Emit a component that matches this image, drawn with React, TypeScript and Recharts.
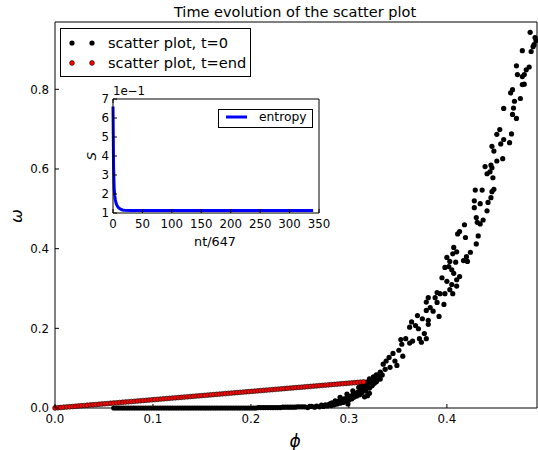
import React from 'react';
import { ScatterChart, Scatter, LineChart, Line, XAxis, YAxis } from 'recharts';

const FONT = '"DejaVu Sans", sans-serif';

// main axes
const phiTicks = [0, 0.1, 0.2, 0.3, 0.4];
const omegaTicks = [0, 0.2, 0.4, 0.6, 0.8];
const phiMax = 0.492;
const omegaMax = 0.969;

// scatter plot, t=end (red)
const redPhi = [
  0.000, 0.003, 0.006, 0.009, 0.012, 0.015, 0.018, 0.021, 0.024, 0.027,
  0.030, 0.033, 0.036, 0.039, 0.042, 0.045, 0.048, 0.051, 0.054, 0.057,
  0.060, 0.063, 0.066, 0.069, 0.072, 0.075, 0.078, 0.081, 0.084, 0.087,
  0.090, 0.093, 0.096, 0.099, 0.102, 0.105, 0.108, 0.111, 0.114, 0.117,
  0.120, 0.123, 0.126, 0.129, 0.132, 0.135, 0.138, 0.141, 0.144, 0.147,
  0.150, 0.153, 0.156, 0.159, 0.162, 0.165, 0.168, 0.171, 0.174, 0.177,
  0.180, 0.183, 0.186, 0.189, 0.192, 0.195, 0.198, 0.201, 0.204, 0.207,
  0.210, 0.213, 0.216, 0.219, 0.222, 0.225, 0.228, 0.231, 0.234, 0.237,
  0.240, 0.243, 0.246, 0.249, 0.252, 0.255, 0.258, 0.261, 0.264, 0.267,
  0.270, 0.273, 0.276, 0.279, 0.282, 0.285, 0.288, 0.291, 0.294, 0.297,
  0.300, 0.303, 0.306, 0.309, 0.312, 0.315,
];
const redOmega = [
  0.0000, 0.0006, 0.0012, 0.0019, 0.0025, 0.0031, 0.0037, 0.0044, 0.0050, 0.0056,
  0.0062, 0.0069, 0.0075, 0.0081, 0.0087, 0.0094, 0.0100, 0.0106, 0.0112, 0.0119,
  0.0125, 0.0131, 0.0137, 0.0144, 0.0150, 0.0156, 0.0162, 0.0168, 0.0175, 0.0181,
  0.0187, 0.0193, 0.0200, 0.0206, 0.0212, 0.0218, 0.0225, 0.0231, 0.0237, 0.0243,
  0.0250, 0.0256, 0.0262, 0.0268, 0.0275, 0.0281, 0.0287, 0.0293, 0.0300, 0.0306,
  0.0312, 0.0318, 0.0324, 0.0331, 0.0337, 0.0343, 0.0349, 0.0356, 0.0362, 0.0368,
  0.0374, 0.0381, 0.0387, 0.0393, 0.0399, 0.0406, 0.0412, 0.0418, 0.0424, 0.0431,
  0.0437, 0.0443, 0.0449, 0.0456, 0.0462, 0.0468, 0.0474, 0.0480, 0.0487, 0.0493,
  0.0499, 0.0505, 0.0512, 0.0518, 0.0524, 0.0530, 0.0537, 0.0543, 0.0549, 0.0555,
  0.0562, 0.0568, 0.0574, 0.0580, 0.0587, 0.0593, 0.0599, 0.0605, 0.0612, 0.0618,
  0.0624, 0.0630, 0.0636, 0.0643, 0.0649, 0.0655,
];

// scatter plot, t=0 (black): [phi, omega]
const blackPoints: [number, number][] = [
  [0.0600, 0], [0.0625, 0], [0.0650, 0], [0.0675, 0], [0.0700, 0], [0.0725, 0], [0.0750, 0], [0.0775, 0],
  [0.0800, 0], [0.0825, 0], [0.0850, 0], [0.0875, 0], [0.0900, 0], [0.0925, 0], [0.0950, 0], [0.0975, 0],
  [0.1000, 0], [0.1025, 0], [0.1050, 0], [0.1075, 0], [0.1100, 0], [0.1125, 0], [0.1150, 0], [0.1175, 0],
  [0.1200, 0], [0.1225, 0], [0.1250, 0], [0.1275, 0], [0.1300, 0], [0.1325, 0], [0.1350, 0], [0.1375, 0],
  [0.1400, 0], [0.1425, 0], [0.1450, 0], [0.1475, 0], [0.1500, 0], [0.1525, 0], [0.1550, 0], [0.1575, 0],
  [0.1600, 0], [0.1625, 0], [0.1650, 0], [0.1675, 0], [0.1700, 0], [0.1725, 0], [0.1750, 0], [0.1775, 0],
  [0.1800, 0], [0.1825, 0], [0.1850, 0], [0.1875, 0], [0.1900, 0], [0.1925, 0], [0.1950, 0], [0.1975, 0],
  [0.2000, 0], [0.2025, 0], [0.2050, 0], [0.2075, 0.001], [0.2100, 0.001], [0.2125, 0.001], [0.2150, 0.001],
  [0.2175, 0.001], [0.2200, 0.001], [0.2225, 0.001], [0.2250, 0.001], [0.2275, 0.001], [0.2300, 0.001],
  [0.2325, 0.002], [0.2350, 0.002], [0.2375, 0.002], [0.2400, 0.002], [0.2425, 0.002], [0.2450, 0.002],
  [0.2475, 0.003], [0.2500, 0.003], [0.2525, 0.003], [0.2550, 0.003], [0.2580, 0.001], [0.2600, 0.004],
  [0.262, 0.004], [0.265, 0.002], [0.267, 0.005], [0.270, 0.003], [0.272, 0.007], [0.274, 0.004],
  [0.276, 0.008], [0.278, 0.005], [0.280, 0.010], [0.282, 0.006], [0.283, 0.012], [0.285, 0.008],
  [0.286, 0.015], [0.288, 0.010], [0.289, 0.017], [0.291, 0.012], [0.292, 0.020], [0.294, 0.014],
  [0.295, 0.023], [0.297, 0.017], [0.298, 0.026], [0.299, 0.010], [0.300, 0.020], [0.301, 0.029],
  [0.303, 0.023], [0.304, 0.033], [0.305, 0.027], [0.307, 0.036], [0.308, 0.030], [0.309, 0.040],
  [0.311, 0.033], [0.312, 0.045], [0.313, 0.038], [0.314, 0.049], [0.316, 0.028], [0.316, 0.053],
  [0.317, 0.043], [0.318, 0.058], [0.319, 0.031], [0.320, 0.063], [0.321, 0.050], [0.322, 0.067],
  [0.323, 0.055], [0.324, 0.072], [0.326, 0.062], [0.327, 0.077], [0.328, 0.066], [0.329, 0.082],
  [0.331, 0.073], [0.332, 0.088],
  [0.351, 0.145], [0.345, 0.137], [0.341, 0.127], [0.347, 0.118], [0.355, 0.130], [0.338, 0.118],
  [0.335, 0.110], [0.342, 0.102], [0.349, 0.107], [0.337, 0.097], [0.332, 0.090], [0.328, 0.083],
  [0.334, 0.083], [0.325, 0.078], [0.321, 0.073], [0.318, 0.065], [0.328, 0.068], [0.332, 0.073],
  [0.324, 0.057], [0.321, 0.052], [0.317, 0.043], [0.321, 0.037], [0.313, 0.060], [0.310, 0.052],
  [0.304, 0.043], [0.298, 0.035], [0.291, 0.027], [0.286, 0.018], [0.282, 0.012],
  [0.395, 0.327], [0.390, 0.290], [0.393, 0.287], [0.388, 0.277], [0.381, 0.277], [0.379, 0.266],
  [0.383, 0.252], [0.390, 0.265], [0.397, 0.260], [0.379, 0.245], [0.386, 0.243], [0.392, 0.230],
  [0.381, 0.220], [0.375, 0.224], [0.370, 0.232], [0.364, 0.216], [0.368, 0.207], [0.362, 0.203],
  [0.371, 0.199], [0.381, 0.210], [0.377, 0.187], [0.372, 0.174], [0.365, 0.168], [0.379, 0.174],
  [0.358, 0.174], [0.362, 0.163], [0.374, 0.165], [0.354, 0.160], [0.353, 0.172],
  [0.407, 0.403], [0.410, 0.392], [0.406, 0.387], [0.424, 0.391], [0.420, 0.380], [0.400, 0.378],
  [0.403, 0.368], [0.409, 0.366], [0.402, 0.355], [0.417, 0.370], [0.421, 0.368], [0.398, 0.353],
  [0.405, 0.347], [0.407, 0.338], [0.413, 0.330], [0.410, 0.322], [0.400, 0.318], [0.405, 0.310],
  [0.410, 0.306], [0.403, 0.297], [0.398, 0.287], [0.406, 0.287],
  [0.418, 0.460], [0.413, 0.443], [0.411, 0.437], [0.419, 0.428],
  [0.429, 0.547], [0.436, 0.547], [0.448, 0.549], [0.446, 0.543], [0.445, 0.528], [0.428, 0.520],
  [0.434, 0.513], [0.442, 0.516], [0.428, 0.503], [0.441, 0.495], [0.430, 0.478], [0.431, 0.466],
  [0.437, 0.472], [0.434, 0.462], [0.432, 0.432], [0.430, 0.412],
  [0.439, 0.606], [0.445, 0.610], [0.446, 0.603], [0.441, 0.588], [0.447, 0.578], [0.444, 0.593],
  [0.454, 0.699], [0.451, 0.687], [0.466, 0.688], [0.458, 0.674], [0.455, 0.663], [0.446, 0.657],
  [0.448, 0.645], [0.457, 0.626], [0.451, 0.620], [0.464, 0.666],
  [0.467, 0.799], [0.465, 0.791], [0.475, 0.777], [0.469, 0.770], [0.468, 0.753], [0.467, 0.737],
  [0.471, 0.727], [0.458, 0.752],
  [0.484, 0.856], [0.481, 0.849], [0.479, 0.837], [0.471, 0.859], [0.472, 0.837], [0.477, 0.832],
  [0.479, 0.813], [0.477, 0.812],
  [0.485, 0.943], [0.489, 0.912], [0.488, 0.907], [0.486, 0.895], [0.477, 0.897], [0.491, 0.922],
  [0.490, 0.930],
];

// inset: entropy vs nt/647
const ntTicks = [0, 50, 100, 150, 200, 250, 300, 350];
const sTicks = [1, 2, 3, 4, 5, 6, 7];
const entropyT = [0, 1, 2, 3, 4, 5, 6, 8, 10, 13, 16, 20, 30, 40, 60, 100, 150, 200, 250, 300, 340];
const entropyS = [6.6, 3.4, 2.3, 1.9, 1.7, 1.55, 1.45, 1.33, 1.26, 1.2, 1.16, 1.14, 1.13, 1.13, 1.13, 1.13, 1.13, 1.13, 1.13, 1.13, 1.13];

const t0Data = blackPoints.map(([phi, omega]) => ({ phi, omega }));
const endData = redPhi.map((phi, i) => ({ phi, omega: redOmega[i] }));
const entropyData = entropyT.map((t, i) => ({ t, s: entropyS[i] }));

const TICK_FS = 11.8;
const txt = { fontFamily: FONT, fill: '#000' };

const bottomTick = (fmt: (v: number) => string) => (p: any) => (
  <g>
    <line x1={p.x} x2={p.x} y1={p.y} y2={p.y - 4} stroke="#000" />
    <text x={p.x} y={p.y + 15} textAnchor="middle" fontSize={TICK_FS} style={txt}>{fmt(p.payload.value)}</text>
  </g>
);
const leftTick = (fmt: (v: number) => string, gap: number) => (p: any) => (
  <g>
    <line x1={p.x} x2={p.x + 4} y1={p.y} y2={p.y} stroke="#000" />
    <text x={p.x - gap} y={p.y} dy="0.36em" textAnchor="end" fontSize={TICK_FS} style={txt}>{fmt(p.payload.value)}</text>
  </g>
);
const topTick = (p: any) => <line x1={p.x} x2={p.x} y1={p.y} y2={p.y + 4} stroke="#000" />;
const rightTick = (p: any) => <line x1={p.x} x2={p.x - 4} y1={p.y} y2={p.y} stroke="#000" />;

const blackDot = (p: any) => <circle cx={p.cx} cy={p.cy} r={2.6} fill="#000" />;
const redDot = (p: any) => <circle cx={p.cx} cy={p.cy} r={2.4} fill="#ff0000" stroke="#000" strokeWidth={0.6} />;

const axisCommon = { tickSize: 0, tickMargin: 0, tickLine: false, interval: 0 as const, axisLine: { stroke: '#000' } };

function Label({ x, y, size, rotate, italic, children }: any) {
  return (
    <div style={{
      position: 'absolute', left: x, top: y, transform: `translate(-50%, -50%)${rotate ? ` rotate(${rotate}deg)` : ''}`,
      fontFamily: FONT, fontSize: size, fontStyle: italic ? 'italic' : 'normal', whiteSpace: 'nowrap', lineHeight: 1, color: '#000',
    }}>{children}</div>
  );
}

function MainLegend() {
  return (
    <svg width={192} height={50} style={{ position: 'absolute', left: 60, top: 28 }}>
      <rect x={0.5} y={0.5} width={190} height={48} fill="#fff" stroke="#000" />
      <circle cx={12} cy={15} r={2.6} fill="#000" />
      <circle cx={32} cy={15} r={2.6} fill="#000" />
      <text x={48} y={15} dy="0.36em" fontSize={14.6} style={txt}>scatter plot, t=0</text>
      <circle cx={12} cy={35} r={2.4} fill="#ff0000" stroke="#000" strokeWidth={0.6} />
      <circle cx={32} cy={35} r={2.4} fill="#ff0000" stroke="#000" strokeWidth={0.6} />
      <text x={48} y={35} dy="0.36em" fontSize={14.6} style={txt}>scatter plot, t=end</text>
    </svg>
  );
}

function InsetLegend() {
  return (
    <svg width={96} height={20} style={{ position: 'absolute', left: 218, top: 109 }}>
      <rect x={0.5} y={0.5} width={94} height={18} fill="#fff" stroke="#000" />
      <line x1={8} x2={29} y1={8} y2={8} stroke="#0000ff" strokeWidth={3} />
      <text x={41} y={8} dy="0.36em" fontSize={12.3} style={txt}>entropy</text>
    </svg>
  );
}

export default function App() {
  return (
    <div style={{ position: 'absolute', left: 0, top: 0, width: 538, height: 450, background: '#fff' }}>
      <ScatterChart width={538} height={450} margin={{ top: 21, right: 0, bottom: 0, left: 0 }}>
        <XAxis dataKey="phi" type="number" domain={[0, phiMax]} ticks={phiTicks} height={42}
          {...axisCommon} tick={bottomTick((v) => v.toFixed(1))} />
        <XAxis xAxisId="top" orientation="top" type="number" domain={[0, phiMax]} ticks={phiTicks} height={1}
          {...axisCommon} tick={topTick} />
        <YAxis dataKey="omega" type="number" domain={[0, omegaMax]} ticks={omegaTicks} width={55}
          {...axisCommon} tick={leftTick((v) => v.toFixed(1), 6)} />
        <YAxis yAxisId="right" orientation="right" type="number" domain={[0, omegaMax]} ticks={omegaTicks} width={1}
          {...axisCommon} tick={rightTick} />
        <Scatter data={t0Data} shape={blackDot} isAnimationActive={false} />
        <Scatter data={endData} shape={redDot} isAnimationActive={false} />
      </ScatterChart>

      <Label x={295} y={12} size={14.5}>Time evolution of the scatter plot</Label>
      <Label x={295} y={441} size={17} italic>ϕ</Label>
      <Label x={17} y={216} size={16.5} italic rotate={-90}>ω</Label>
      <MainLegend />

      <div style={{ position: 'absolute', left: 60, top: 85 }}>
        <LineChart width={270} height={175} data={entropyData} margin={{ top: 13, right: 10, bottom: 0, left: 0 }}>
          <XAxis dataKey="t" type="number" domain={[0, 350]} ticks={ntTicks} height={47}
            {...axisCommon} tick={bottomTick((v) => String(v))} />
          <XAxis xAxisId="top" orientation="top" type="number" domain={[0, 350]} ticks={ntTicks} height={1}
            {...axisCommon} tick={topTick} />
          <YAxis type="number" domain={[1, 7]} ticks={sTicks} width={53}
            {...axisCommon} tick={leftTick((v) => String(v), 4)} />
          <YAxis yAxisId="right" orientation="right" type="number" domain={[1, 7]} ticks={sTicks} width={1}
            {...axisCommon} tick={rightTick} />
          <Line dataKey="s" type="linear" stroke="#0000ff" strokeWidth={3} dot={false} isAnimationActive={false} />
        </LineChart>
      </div>
      <Label x={129} y={92} size={11.8}>1e−1</Label>
      <Label x={91} y={156} size={13} italic rotate={-90}>S</Label>
      <Label x={215} y={242} size={12.8}>nt/647</Label>
      <InsetLegend />
    </div>
  );
}
